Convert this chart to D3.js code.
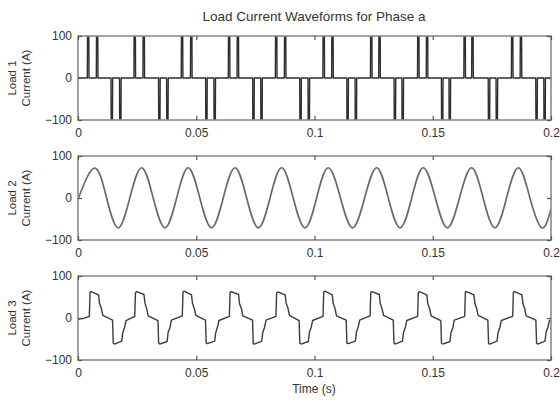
<!DOCTYPE html>
<html>
<head>
<meta charset="utf-8">
<script src="https://cdn.jsdelivr.net/npm/d3@7"></script>
<style>
  body { margin: 0; background: #fff; }
  svg text { font-family: "Liberation Sans", Arial, sans-serif; fill: #333; }
</style>
</head>
<body>
<div id="chart"></div>
<script>
// time in ms, current in A
const xTicks = [0, 0.05, 0.1, 0.15, 0.2];
const yTicks = [-100, 0, 100];

// load 1: narrow current pulses (clipped by the axis), times
const load1PosSpikes = [4.3, 8.1, 24.0, 27.8, 44.0, 47.9, 63.9, 67.6, 83.8, 87.6,
  103.9, 107.6, 124.0, 127.5, 143.9, 147.6, 163.5, 166.8, 183.6, 187.3];
const load1NegSpikes = [14.3, 17.9, 34.4, 37.8, 54.3, 57.8, 74.2, 77.6, 94.1, 97.6,
  114.0, 117.5, 134.0, 137.3, 154.0, 157.2, 173.8, 177.1, 193.9, 197.3];
const load1SpikePeak = 300;

// load 2: extrema and zero crossings of the sine
const load2Points = [[0,-3],[7.0,71],[12.1,0],[17.0,-71],[21.9,0],[26.9,72],[31.8,0],[36.8,-71],
  [41.7,0],[46.6,72],[51.5,0],[56.5,-71],[61.4,0],[66.4,72],[71.3,0],[76.3,-71],[81.2,0],
  [86.1,72],[91.0,0],[96.0,-71],[100.9,0],[105.8,72],[111.0,0],[116.1,-71],[121.2,0],
  [126.3,72],[131.2,0],[136.2,-71],[141.1,0],[146.0,72],[151.1,0],[156.2,-71],[161.3,0],
  [166.4,72],[171.3,0],[176.3,-71],[181.2,0],[186.2,72],[191.1,0],[196.1,-71],[200,-26]];

// load 3: stepped rectifier-like current, breakpoints
const load3Points = [[0,-3],[2.4,-1],
  [4.8,4],[5.1,61],[5.6,63],[8.7,55],[9.1,35],[9.9,22],[10.5,6],[14.6,-5],[14.9,-60],[15.4,-62],[18.5,-55],[18.9,-35],[19.7,-22],[20.3,-6],
  [24.0,4],[24.3,60],[24.8,63],[27.9,56],[28.3,36],[29.1,21],[29.7,5],[33.8,-6],[34.1,-59],[34.6,-62],[37.7,-56],[38.1,-34],[38.9,-23],[39.5,-5],
  [44.1,5],[44.4,62],[44.9,64],[48.0,55],[48.4,35],[49.2,22],[49.8,6],[53.9,-5],[54.2,-60],[54.7,-61],[57.8,-55],[58.2,-36],[59.0,-21],[59.6,-6],
  [64.0,4],[64.3,61],[64.8,63],[67.9,56],[68.3,34],[69.1,22],[69.7,5],[73.8,-5],[74.1,-61],[74.6,-62],[77.7,-55],[78.1,-35],[78.9,-22],[79.5,-5],
  [83.7,4],[84.0,60],[84.5,62],[87.6,55],[88.0,36],[88.8,23],[89.4,6],[93.5,-6],[93.8,-60],[94.3,-62],[97.4,-56],[97.8,-35],[98.6,-22],[99.2,-6],
  [103.6,4],[103.9,62],[104.4,64],[107.5,55],[107.9,35],[108.7,22],[109.3,5],[113.4,-5],[113.7,-60],[114.2,-61],[117.3,-55],[117.7,-34],[118.5,-21],[119.1,-5],
  [123.5,5],[123.8,61],[124.3,63],[127.4,56],[127.8,35],[128.6,21],[129.2,6],[133.3,-5],[133.6,-59],[134.1,-62],[137.2,-55],[137.6,-36],[138.4,-22],[139.0,-6],
  [143.6,4],[143.9,60],[144.4,63],[147.5,55],[147.9,34],[148.7,22],[149.3,5],[153.4,-6],[153.7,-60],[154.2,-62],[157.3,-56],[157.7,-35],[158.5,-23],[159.1,-5],
  [163.5,4],[163.8,62],[164.3,63],[167.4,55],[167.8,35],[168.6,22],[169.2,6],[173.3,-5],[173.6,-61],[174.1,-62],[177.2,-55],[177.6,-35],[178.4,-22],[179.0,-6],
  [183.8,4],[184.1,61],[184.6,63],[187.7,55],[188.1,35],[188.9,22],[189.5,5],[193.6,-5],[193.9,-60],[194.4,-62],[197.5,-55],[197.9,-34],[198.7,-22],[199.3,-6],[200,-4]];

// build load 1 polyline from the spike lists
const load1Points = (function() {
  const ev = load1PosSpikes.map(t => [t, 1]).concat(load1NegSpikes.map(t => [t, -1]))
    .sort((a, b) => a[0] - b[0]);
  const pts = [[0, 0]];
  ev.forEach(([t, s]) => {
    pts.push([t - 0.35, 0], [t - 0.12, s * load1SpikePeak], [t + 0.12, s * load1SpikePeak], [t + 0.35, 0]);
  });
  pts.push([200, 0]);
  return pts;
})();

const panels = [
  { name: 'Load 1', data: load1Points, top: 36, curve: d3.curveLinear, color: '#2e2e2e', lw: 1.4 },
  { name: 'Load 2', data: load2Points, top: 156, curve: d3.curveNatural, color: '#6a6a6a', lw: 1.7 },
  { name: 'Load 3', data: load3Points, top: 276, curve: d3.curveLinear, color: '#3c3c3c', lw: 1.4 }
];

const W = 560, H = 401,
  left = 78, right = 551, ph = 84;

const svg = d3.select('#chart').append('svg')
  .attr('width', W)
  .attr('height', H);

const x = d3.scaleLinear().domain([0, 0.2]).range([left, right]);
const fmt = d => String(d);

svg.append('text')
  .attr('x', 314).attr('y', 21)
  .attr('text-anchor', 'middle')
  .style('font-size', '13.5px')
  .text('Load Current Waveforms for Phase a');

panels.forEach((p, i) => {
  const y = d3.scaleLinear().domain([-100, 100]).range([p.top + ph, p.top]);
  const g = svg.append('g');

  g.append('clipPath').attr('id', 'clip' + i)
    .append('rect')
    .attr('x', left).attr('y', p.top)
    .attr('width', right - left).attr('height', ph);

  const line = d3.line()
    .x(d => x(d[0] / 1000))
    .y(d => y(d[1]))
    .curve(p.curve);

  g.append('path')
    .datum(p.data)
    .attr('clip-path', 'url(#clip' + i + ')')
    .attr('fill', 'none')
    .attr('stroke', p.color)
    .attr('stroke-width', p.lw)
    .attr('stroke-linejoin', 'round')
    .attr('d', line);

  // box
  g.append('rect')
    .attr('x', left).attr('y', p.top)
    .attr('width', right - left).attr('height', ph)
    .attr('fill', 'none')
    .attr('stroke', '#8a8a8a')
    .attr('stroke-width', 1.6);

  // bottom axis with labels, ticks inside
  const xb = g.append('g')
    .attr('transform', 'translate(0,' + (p.top + ph) + ')')
    .call(d3.axisBottom(x).tickValues(xTicks).tickFormat(fmt).tickSize(-4).tickSizeOuter(0).tickPadding(8));
  const xt = g.append('g')
    .attr('transform', 'translate(0,' + p.top + ')')
    .call(d3.axisTop(x).tickValues(xTicks).tickFormat('').tickSize(-4).tickSizeOuter(0));
  const yl = g.append('g')
    .attr('transform', 'translate(' + left + ',0)')
    .call(d3.axisLeft(y).tickValues(yTicks).tickSize(-4).tickSizeOuter(0).tickPadding(6));
  const yr = g.append('g')
    .attr('transform', 'translate(' + right + ',0)')
    .call(d3.axisRight(y).tickValues(yTicks).tickFormat('').tickSize(-4).tickSizeOuter(0));

  [xb, xt, yl, yr].forEach(a => {
    a.select('.domain').remove();
    a.selectAll('line').attr('stroke', '#555').attr('stroke-width', 1.2);
    a.selectAll('text').style('font-size', '12px').attr('fill', '#333');
  });

  // y label, two lines
  const cy = p.top + ph / 2;
  g.append('text')
    .attr('transform', 'translate(16,' + cy + ') rotate(-90)')
    .attr('text-anchor', 'middle')
    .style('font-size', '11.5px')
    .text(p.name);
  g.append('text')
    .attr('transform', 'translate(30,' + cy + ') rotate(-90)')
    .attr('text-anchor', 'middle')
    .style('font-size', '11.5px')
    .text('Current (A)');
});

svg.append('text')
  .attr('x', 314).attr('y', 393)
  .attr('text-anchor', 'middle')
  .style('font-size', '12px')
  .text('Time (s)');
</script>
</body>
</html>
